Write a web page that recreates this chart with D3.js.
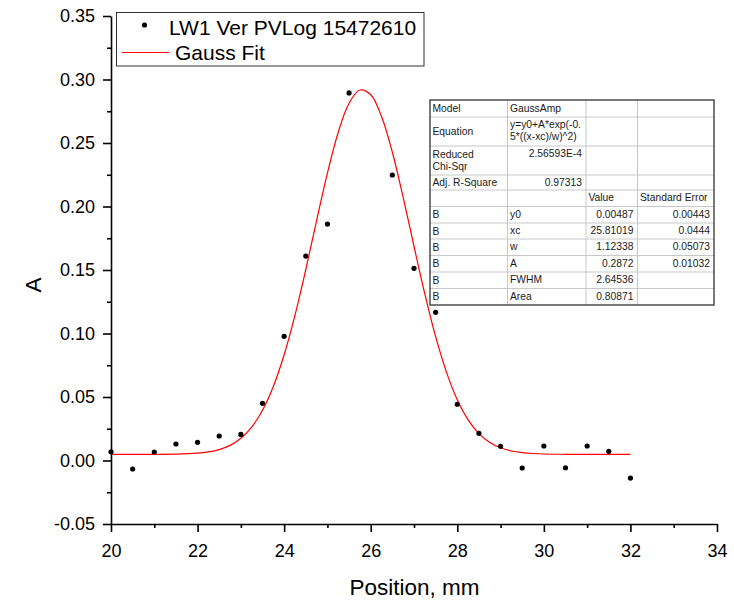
<!DOCTYPE html>
<html>
<head>
<meta charset="utf-8">
<script src="https://cdn.jsdelivr.net/npm/d3@7"></script>
<style>
  html, body { margin: 0; padding: 0; background: #fff; }
  svg { display: block; font-family: Arial, "Liberation Sans", sans-serif; }
</style>
</head>
<body>
<svg id="chart" width="734" height="601"></svg>
<script>
// ---- data ----
const posX = [20, 20.5, 21, 21.5, 22, 22.5, 23, 23.5, 24, 24.5, 25, 25.5,
              26.5, 27, 27.5, 28, 28.5, 29, 29.5, 30, 30.5, 31, 31.5, 32];
const absA = [0.0069, -0.0067, 0.0067, 0.0130, 0.0143, 0.0193, 0.0205, 0.0450, 0.0978, 0.1610, 0.1862, 0.2894,
              0.2248, 0.1513, 0.1167, 0.0443, 0.0214, 0.0112, -0.0059, 0.0114, -0.0057, 0.0114, 0.0072, -0.0138];

const fitX = [20, 20.5, 21, 21.5, 22, 22.25, 22.5, 22.75, 23, 23.25, 23.5, 23.75, 24,
              24.25, 24.5, 24.75, 25, 25.25, 25.5, 25.75, 26, 26.25, 26.5, 26.75, 27, 27.25, 27.5, 27.75, 28,
              28.25, 28.5, 28.75, 29, 29.25, 29.5, 29.75, 30, 30.5, 31, 31.5, 32];
const fitY = [0.0049, 0.0049, 0.0049, 0.0050, 0.0058, 0.0068, 0.0086, 0.0119, 0.0175, 0.0263, 0.0396, 0.0583, 0.0833,
              0.1143, 0.1504, 0.1889, 0.2263, 0.2585, 0.2813, 0.2917, 0.2880, 0.2709, 0.2427, 0.2072, 0.1687, 0.1312, 0.0975, 0.0696, 0.0478,
              0.0320, 0.0212, 0.0142, 0.0100, 0.0075, 0.0062, 0.0055, 0.0051, 0.0049, 0.0049, 0.0049, 0.0049];

const xMajorTicks = [20, 22, 24, 26, 28, 30, 32, 34];
const xMinorTicks = [21, 23, 25, 27, 29, 31, 33];
const yMajorTicks = [-0.05, 0.00, 0.05, 0.10, 0.15, 0.20, 0.25, 0.30, 0.35];
const yMinorTicks = [-0.025, 0.025, 0.075, 0.125, 0.175, 0.225, 0.275, 0.325];
const yTickLabels = ["-0.05", "0.00", "0.05", "0.10", "0.15", "0.20", "0.25", "0.30", "0.35"];

const seriesNames = ["LW1 Ver PVLog 15472610", "Gauss Fit"];
const xTitle = "Position, mm";
const yTitle = "A";

const tableRows = [
  ["Model", "GaussAmp", "", ""],
  ["Equation", "y=y0+A*exp(-0.|5*((x-xc)/w)^2)", "", ""],
  ["Reduced|Chi-Sqr", "2.56593E-4", "", ""],
  ["Adj. R-Square", "0.97313", "", ""],
  ["", "", "Value", "Standard Error"],
  ["B", "y0", "0.00487", "0.00443"],
  ["B", "xc", "25.81019", "0.0444"],
  ["B", "w", "1.12338", "0.05073"],
  ["B", "A", "0.2872", "0.01032"],
  ["B", "FWHM", "2.64536", ""],
  ["B", "Area", "0.80871", ""]
];

// ---- layout ----
const svg = d3.select("#chart");
const x = d3.scaleLinear().domain([20, 34]).range([111, 717]);
const y = d3.scaleLinear().domain([-0.05, 0.35]).range([524, 16]);

// fit curve
const line = d3.line().x(d => x(d[0])).y(d => y(d[1])).curve(d3.curveCatmullRom);
svg.append("path")
  .datum(fitX.map((v, i) => [v, fitY[i]]))
  .attr("d", line)
  .attr("fill", "none")
  .attr("stroke", "#ff0000")
  .attr("stroke-width", 1.2);

// points
svg.append("g").selectAll("circle")
  .data(posX.map((v, i) => [v, absA[i]]))
  .join("circle")
  .attr("cx", d => x(d[0]))
  .attr("cy", d => y(d[1]))
  .attr("r", 2.6)
  .attr("fill", "#000");

// axes
svg.append("g").attr("transform", "translate(0,524)")
  .call(d3.axisBottom(x).tickValues(xMajorTicks).tickSize(8).tickSizeOuter(0).tickPadding(12).tickFormat(d3.format("d")));
const xMinor = svg.append("g").attr("transform", "translate(0,524)")
  .call(d3.axisBottom(x).tickValues(xMinorTicks).tickSize(4).tickFormat(""));
xMinor.select(".domain").remove();

svg.append("g").attr("transform", "translate(111,0)")
  .call(d3.axisLeft(y).tickValues(yMajorTicks).tickSize(8).tickSizeOuter(0).tickPadding(8)
    .tickFormat((d, i) => yTickLabels[i]));
const yMinor = svg.append("g").attr("transform", "translate(111,0)")
  .call(d3.axisLeft(y).tickValues(yMinorTicks).tickSize(4).tickFormat(""));
yMinor.select(".domain").remove();

svg.selectAll(".domain, .tick line").attr("stroke", "#000").attr("stroke-width", 1.6);
svg.selectAll(".tick text").attr("font-size", 18).attr("fill", "#000")
  .attr("font-family", "Arial, 'Liberation Sans', sans-serif");

// axis titles
svg.append("text").attr("x", 414.5).attr("y", 595).attr("text-anchor", "middle")
  .attr("font-size", 22.5).text(xTitle);
svg.append("text").attr("transform", "translate(41,285) rotate(-90)").attr("text-anchor", "middle")
  .attr("font-size", 22.5).text(yTitle);

// legend
const lg = svg.append("g");
lg.append("rect").attr("x", 116.5).attr("y", 12.5).attr("width", 307.5).attr("height", 53.5)
  .attr("fill", "#fff").attr("stroke", "#333").attr("stroke-width", 1);
lg.append("circle").attr("cx", 144.5).attr("cy", 25).attr("r", 2.6).attr("fill", "#000");
lg.append("text").attr("x", 169).attr("y", 35).attr("font-size", 21).text(seriesNames[0]);
lg.append("line").attr("x1", 122).attr("x2", 169).attr("y1", 52.5).attr("y2", 52.5)
  .attr("stroke", "#ff0000").attr("stroke-width", 1.2);
lg.append("text").attr("x", 175).attr("y", 60).attr("font-size", 21).text(seriesNames[1]);

// results table
const colEdges = [430, 507.5, 586, 637.5, 714];
const rowEdges = [100, 117, 146, 175, 190, 206.5, 223, 239, 255.5, 272, 288.5, 305];
const tb = svg.append("g");
tb.append("rect").attr("x", colEdges[0]).attr("y", rowEdges[0])
  .attr("width", colEdges[4] - colEdges[0]).attr("height", rowEdges[11] - rowEdges[0])
  .attr("fill", "#fff");
for (let i = 1; i < rowEdges.length - 1; i++) {
  tb.append("line").attr("x1", colEdges[0]).attr("x2", colEdges[4])
    .attr("y1", rowEdges[i]).attr("y2", rowEdges[i]).attr("stroke", "#c8c8c8").attr("stroke-width", 1);
}
for (let j = 1; j < colEdges.length - 1; j++) {
  tb.append("line").attr("x1", colEdges[j]).attr("x2", colEdges[j])
    .attr("y1", rowEdges[0]).attr("y2", rowEdges[11]).attr("stroke", "#c8c8c8").attr("stroke-width", 1);
}
tb.append("rect").attr("x", colEdges[0]).attr("y", rowEdges[0])
  .attr("width", colEdges[4] - colEdges[0]).attr("height", rowEdges[11] - rowEdges[0])
  .attr("fill", "none").attr("stroke", "#404040").attr("stroke-width", 1.4);

tableRows.forEach((row, ri) => {
  const top = rowEdges[ri], bot = rowEdges[ri + 1], mid = (top + bot) / 2;
  const multi = row.some(c => c.includes("|"));
  row.forEach((cell, ci) => {
    if (!cell) return;
    const lines = cell.split("|");
    const numeric = !isNaN(+cell);
    const tx = numeric ? colEdges[ci + 1] - 4 : colEdges[ci] + 2.5;
    let base;
    if (ci === 0) base = mid + 3.6 - (lines.length - 1) * 11.7 / 2;
    else if (multi) base = top + 11.3;
    else base = mid + 3.0;
    const t = tb.append("text").attr("font-size", 10.3).attr("fill", "#1a1a1a")
      .attr("text-anchor", numeric ? "end" : "start");
    lines.forEach((ln, li) => {
      t.append("tspan").attr("x", tx).attr("y", base + li * 11.7).text(ln);
    });
  });
});
</script>
</body>
</html>
